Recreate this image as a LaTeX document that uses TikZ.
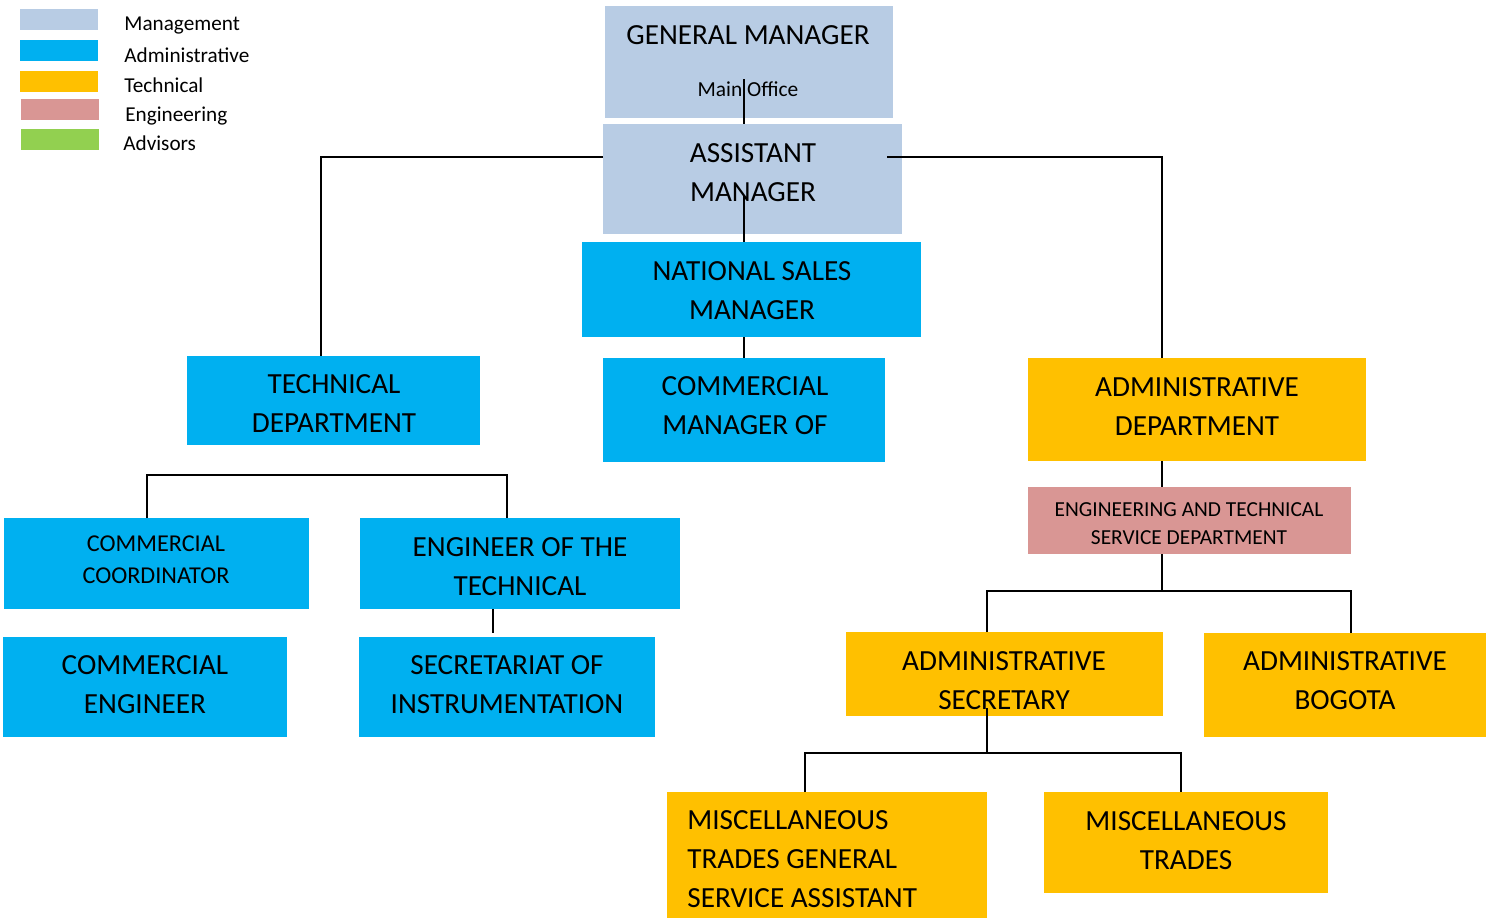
\documentclass[tikz,border=0pt]{standalone}
\usepackage{fontspec}
\setmainfont{Carlito}
\definecolor{cMgmt}{HTML}{B8CCE4}
\definecolor{cAdm}{HTML}{00B0F0}
\definecolor{cTec}{HTML}{FFC000}
\definecolor{cEng}{HTML}{D99694}
\definecolor{cAdv}{HTML}{92D050}
\newcommand\orgbox[6]{\path[fill=#6] (#2,#3) rectangle (#4,#5) coordinate (#1-se);
  \node[inner sep=0pt, minimum width={(#4-#2)*0.5pt}, minimum height={(#5-#3)*0.5pt}] (#1) at ({(#2+#4)/2},{(#3+#5)/2}) {};}
\tikzset{
  big/.style={inner sep=0pt, align=center, font=\fontsize{14.6}{19.5}\selectfont},
  mid/.style={inner sep=0pt, align=center, font=\fontsize{12.1}{16}\selectfont},
  small/.style={inner sep=0pt, align=center, font=\fontsize{10.7}{14}\selectfont},
  legtext/.style={inner sep=0pt, anchor=west, font=\fontsize{10.6}{13}\selectfont},
  conn/.style={draw=black, line width=0.95pt},
}
\begin{document}
\begin{tikzpicture}[x=0.5pt, y=-0.5pt]
\useasboundingbox[fill=white] (0,0) rectangle (1492,918);
% legend
\path[fill=cMgmt] (20,9) rectangle (98,30);
\path[fill=cAdm] (20,40) rectangle (98,61);
\path[fill=cTec] (20,71) rectangle (98,92);
\path[fill=cEng] (21,99) rectangle (99,120);
\path[fill=cAdv] (21,129) rectangle (99,150);
\node[legtext] (l1) at (124,26) {Management};
\node[legtext] (l2) at (124,55) {Administrative};
\node[legtext] (l3) at (124,85) {Technical};
\node[legtext] (l4) at (125,116) {Engineering};
\node[legtext] (l5) at (123,143) {Advisors};
% boxes
\orgbox{gm}{605}{6}{893}{118}{cMgmt}
\orgbox{am}{603}{124}{902}{234}{cMgmt}
\orgbox{nsm}{582}{242}{921}{337}{cAdm}
\orgbox{td}{187}{356}{480}{445}{cAdm}
\orgbox{cm}{603}{358}{885}{462}{cAdm}
\orgbox{ad}{1028}{358}{1366}{461}{cTec}
\orgbox{et}{1028}{487}{1351}{554}{cEng}
\orgbox{cc}{4}{518}{309}{609}{cAdm}
\orgbox{eng}{360}{518}{680}{609}{cAdm}
\orgbox{ce}{3}{637}{287}{737}{cAdm}
\orgbox{sec}{359}{637}{655}{737}{cAdm}
\orgbox{as}{846}{632}{1163}{716}{cTec}
\orgbox{ab}{1204}{633}{1486}{737}{cTec}
\orgbox{mg}{667}{792}{987}{918}{cTec}
\orgbox{mt}{1044}{792}{1328}{893}{cTec}
% connector points
\coordinate (p1) at (744,79);
\coordinate (p2) at (603,157);
\coordinate (p3) at (321,356);
\coordinate (p4) at (887,157);
\coordinate (p5) at (1162,358);
\coordinate (p6) at (744,196);
\coordinate (p7) at (147,518);
\coordinate (p8) at (507,518);
\coordinate (p9) at (493,609);
\coordinate (p10) at (1162,461);
\coordinate (p11) at (987,632);
\coordinate (p12) at (1351,633);
\coordinate (p13) at (987,708);
\coordinate (p14) at (805,792);
\coordinate (p15) at (1181,792);
% texts
\node[big] (tgm) at (748,35) {GENERAL MANAGER};
\node[small] (tmo) at (748,89) {Main Office};
\node[big] (tam) at (753,172.5) {ASSISTANT\\MANAGER};
\node[big] (tnsm) at (752,290.5) {NATIONAL SALES\\MANAGER};
\node[big] (ttd) at (334,403.5) {TECHNICAL\\DEPARTMENT};
\node[big] (tcm) at (745,405.5) {COMMERCIAL\\MANAGER OF};
\node[big] (tad) at (1197,406.5) {ADMINISTRATIVE\\DEPARTMENT};
\node[small] (tet) at (1189,524) {ENGINEERING AND TECHNICAL\\SERVICE DEPARTMENT};
\node[mid] (tcc) at (156,560) {COMMERCIAL\\COORDINATOR};
\node[big] (teng) at (520,566.5) {ENGINEER OF THE\\TECHNICAL};
\node[big] (tce) at (145,684.5) {COMMERCIAL\\ENGINEER};
\node[big] (tsec) at (507,684.5) {SECRETARIAT OF\\INSTRUMENTATION};
\node[big] (tas) at (1004,680.5) {ADMINISTRATIVE\\SECRETARY};
\node[big] (tab) at (1345,680.5) {ADMINISTRATIVE\\BOGOTA};
\node[big, align=left, anchor=west] (tmg) at (687,859.5) {MISCELLANEOUS\\TRADES GENERAL\\SERVICE ASSISTANT};
\node[big] (tmt) at (1186,840.5) {MISCELLANEOUS\\TRADES};
% connectors
\draw[conn] (p1) -- (p1 |- am.north);
\draw[conn] (p2) -| (p3);
\draw[conn] (p4) -| (p5);
\draw[conn] (p6) -- (p6 |- nsm.north);
\draw[conn] (p6 |- nsm.south) -- (p6 |- cm.north);
\draw[conn] (p7) -- ++(0,-43) -| (p8);
\draw[conn] (p9) -- ++(0,24);
\draw[conn] (p10) -- (p10 |- et.north);
\draw[conn] (p10 |- et.south) -- ++(0,37);
\draw[conn] (p11) -- ++(0,-41) -| (p12);
\draw[conn] (p13) -- ++(0,45);
\draw[conn] (p14) -- ++(0,-39) -| (p15);
\end{tikzpicture}
\end{document}
